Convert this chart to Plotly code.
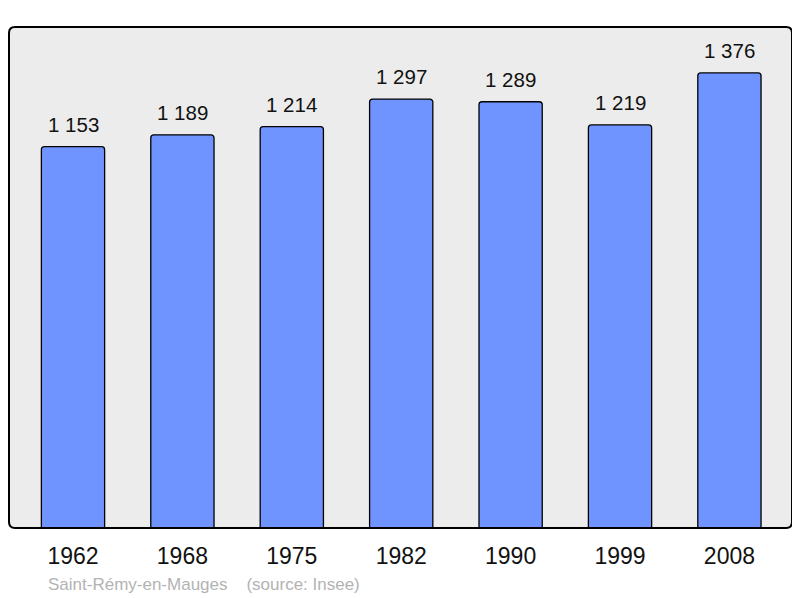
import plotly.graph_objects as go

years = ["1962", "1968", "1975", "1982", "1990", "1999", "2008"]
population = [1153, 1189, 1214, 1297, 1289, 1219, 1376]
labels = ["1 153", "1 189", "1 214", "1 297", "1 289", "1 219", "1 376"]
source_text = "Saint-Rémy-en-Mauges    (source: Insee)"

# page body has an 8px default margin; compensate
W, H = 792, 590
ml, mr, mt, mb = 1, 8, 19, 70
pw = W - ml - mr
ph = H - mt - mb

xs = list(range(len(years)))

fig = go.Figure()
fig.add_trace(go.Bar(
    x=xs, y=population, width=0.578,
    marker=dict(color="#7094ff", line=dict(color="#000000", width=1.3), cornerradius=3),
    hoverinfo="skip",
))

for i, (v, t) in enumerate(zip(population, labels)):
    fig.add_annotation(x=i, y=v, text=t, showarrow=False, yanchor="bottom",
                       yshift=9, font=dict(size=20.5, color="#111111", family="Liberation Sans, Arial"))

fig.add_annotation(xref="paper", yref="paper", x=(46 - 9) / pw, y=(528 - 584) / ph,
                   text=source_text, showarrow=False, xanchor="left", yanchor="middle",
                   font=dict(size=17, color="#b3b3b3", family="Liberation Sans, Arial"))

r = 6
rx, ry = r / pw, r / ph
path = (f"M {rx},0 L {1-rx},0 Q 1,0 1,{ry} L 1,{1-ry} Q 1,1 {1-rx},1 "
        f"L {rx},1 Q 0,1 0,{1-ry} L 0,{ry} Q 0,0 {rx},0 Z")
fig.add_shape(type="path", xref="paper", yref="paper", path=path,
              fillcolor="#ececec", line=dict(width=0), layer="below")
fig.add_shape(type="path", xref="paper", yref="paper", path=path,
              fillcolor="rgba(0,0,0,0)", line=dict(color="#000000", width=2), layer="above")

fig.update_layout(
    width=W, height=H,
    margin=dict(l=ml, r=mr, t=mt, b=mb),
    paper_bgcolor="#ffffff", plot_bgcolor="rgba(0,0,0,0)",
    showlegend=False,
    xaxis=dict(range=[-0.585, 6.572], tickvals=xs, ticktext=years, showgrid=False,
               zeroline=False, showline=False, ticks="", ticklabelstandoff=12,
               tickfont=dict(size=23, color="#111111", family="Liberation Sans, Arial")),
    yaxis=dict(range=[0, 1515], showgrid=False, zeroline=False, showline=False,
               showticklabels=False, ticks=""),
)

fig.write_html("out.html")
